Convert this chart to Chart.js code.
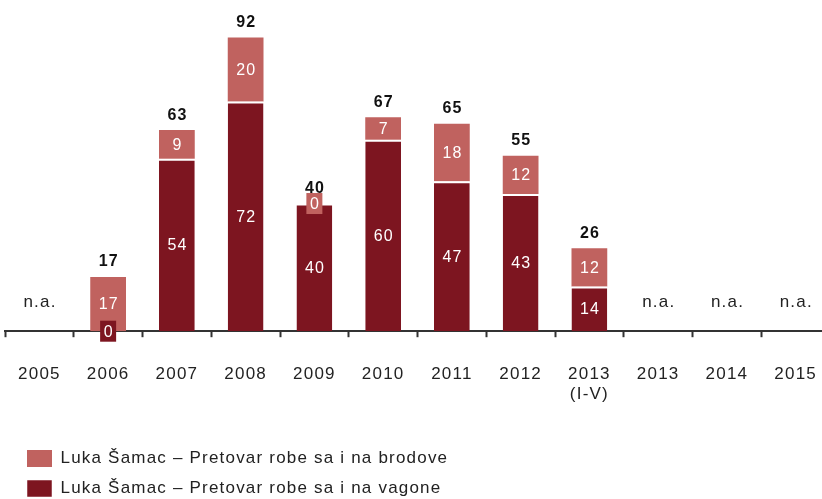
<!DOCTYPE html>
<html>
<head>
<meta charset="utf-8">
<script src="https://cdn.jsdelivr.net/npm/chart.js@4/dist/chart.umd.min.js"></script>
<style>
  body { margin: 0; background: #fff; overflow: hidden; }
  #wrap { position: relative; width: 830px; height: 499px; }
</style>
</head>
<body>
<div id="wrap"><canvas id="chart"></canvas></div>
<script>
// categories and series
const years = ['2005', '2006', '2007', '2008', '2009', '2010', '2011', '2012', ['2013', '(I-V)'], '2013', '2014', '2015'];
const vagone = [null, 0, 54, 72, 40, 60, 47, 43, 14, null, null, null];
const brodove = [null, 17, 9, 20, 0, 7, 18, 12, 12, null, null, null];
const naLevel = 9.2; // where the "n.a." note sits, in axis units

const DARK = '#7d1520';
const LIGHT = '#c0625f';
const FONT = '"Liberation Sans", Arial, sans-serif';
const SPACING = '1.2px';

const barLabels = {
  id: 'barLabels',
  beforeLayout(chart) { chart.ctx.letterSpacing = SPACING; },
  beforeDraw(chart) { chart.ctx.letterSpacing = SPACING; },
  afterLayout(chart) {
    // nudge the legend to where the reference has it
    const lg = chart.legend;
    const dx = 9, dy = 450 - 13 - lg.top;
    lg.left += dx; lg.right += dx;
    lg.top += dy; lg.bottom += dy;
  },
  afterDatasetsDraw(chart) {
    const ctx = chart.ctx;
    const y = chart.scales.y;
    const x = chart.scales.x;
    ctx.save();
    ctx.letterSpacing = SPACING;
    ctx.textAlign = 'center';
    ctx.textBaseline = 'middle';

    // values inside the segments
    chart.data.datasets.forEach((ds, di) => {
      const meta = chart.getDatasetMeta(di);
      meta.data.forEach((bar, i) => {
        const v = ds.data[i];
        if (v === null) return;
        const cy = (bar.y + bar.base) / 2;
        if (v === 0) {
          ctx.fillStyle = ds.backgroundColor;
          ctx.fillRect(bar.x - 8, cy - 10.5, 16, 21);
        }
        ctx.fillStyle = '#fff';
        ctx.font = '16px ' + FONT;
        ctx.fillText(String(v), bar.x + 0.6, cy + 1);
      });
    });

    // totals / n.a.
    years.forEach((c, i) => {
      const a = vagone[i], b = brodove[i];
      const px = x.getPixelForValue(i);
      if (a === null && b === null) {
        ctx.fillStyle = '#222';
        ctx.font = '17px ' + FONT;
        ctx.fillText('n.a.', px + 0.6, y.getPixelForValue(naLevel));
        return;
      }
      const total = (a || 0) + (b || 0);
      ctx.fillStyle = '#111';
      ctx.font = 'bold 16px ' + FONT;
      ctx.fillText(String(total), px + 0.6, y.getPixelForValue(total) - 15);
    });
    ctx.restore();
  }
};

new Chart(document.getElementById('chart'), {
  type: 'bar',
  data: {
    labels: years,
    datasets: [
      {
        label: 'Luka Šamac – Pretovar robe sa i na vagone',
        data: vagone,
        backgroundColor: DARK,
        borderColor: '#fff',
        borderWidth: { top: 2, left: 0, right: 0, bottom: 0 },
        borderSkipped: false
      },
      {
        label: 'Luka Šamac – Pretovar robe sa i na brodove',
        data: brodove,
        backgroundColor: LIGHT,
        borderColor: '#fff',
        borderWidth: 0
      }
    ]
  },
  options: {
    responsive: true,
    maintainAspectRatio: false,
    animation: false,
    datasets: { bar: { categoryPercentage: 1, barPercentage: 0.52 } },
    layout: { padding: { top: 12, left: 5, right: 0, bottom: 0 } },
    scales: {
      x: {
        stacked: true,
        offset: true,
        afterFit(scale) {
          scale.paddingLeft = 0;
          scale.paddingRight = 0;
          scale.height -= 3;
        },
        border: { display: true, color: '#333', width: 2 },
        grid: { display: true, drawOnChartArea: false, drawTicks: true, tickLength: 6, tickWidth: 2, tickColor: '#333', offset: true },
        ticks: { color: '#222', padding: 27, maxRotation: 0, autoSkip: false, font: { family: FONT, size: 17, lineHeight: 1.2 } }
      },
      y: {
        stacked: true,
        display: false,
        min: 0,
        max: 100
      }
    },
    plugins: {
      tooltip: { enabled: false },
      legend: {
        position: 'bottom',
        align: 'start',
        reverse: true,
        labels: {
          boxWidth: 25,
          boxHeight: 17,
          padding: 13,
          color: '#222',
          font: { family: FONT, size: 17 }
        }
      }
    }
  },
  plugins: [barLabels]
});
</script>
</body>
</html>
